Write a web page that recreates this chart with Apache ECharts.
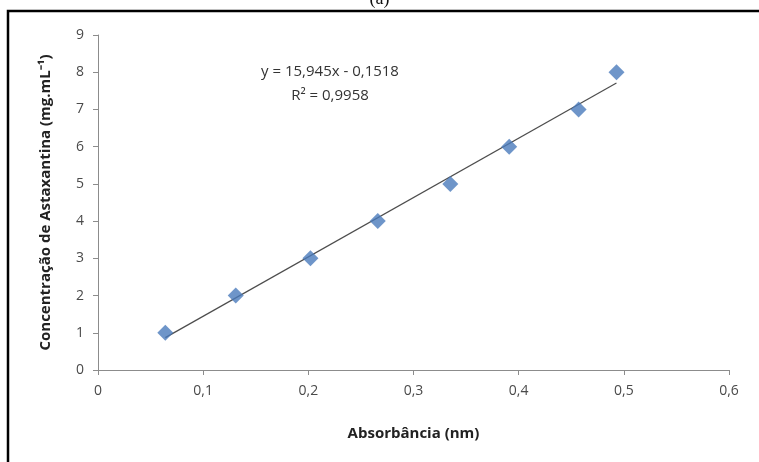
<!DOCTYPE html>
<html>
<head>
<meta charset="utf-8">
<script src="https://cdn.jsdelivr.net/npm/echarts@6/dist/echarts.min.js"></script>
<style>
  html, body { margin: 0; padding: 0; background: #fff; }
  #chart { width: 759px; height: 462px; }
</style>
</head>
<body>
<div id="chart"></div>
<script>
// absorbância (nm) x concentração (mg.mL-1)
const absorbancia = [0.064, 0.131, 0.202, 0.266, 0.335, 0.391, 0.457, 0.493];
const concentracao = [1, 2, 3, 4, 5, 6, 7, 8];
// linha de tendência, pontos extremos
const tendenciaX = [0.064, 0.493];
const tendenciaY = [0.87, 7.71];
const eqTexto = ['y = 15,945x - 0,1518', 'R² = 0,9958'];

const fonte = '"Open Sans", sans-serif';
const chart = echarts.init(document.getElementById('chart'));

chart.setOption({
  backgroundColor: '#fff',
  animation: false,
  textStyle: { fontFamily: fonte },
  grid: { left: 98, right: 30, top: 35, bottom: 92 },
  graphic: [
    {
      type: 'rect',
      shape: { x: 8, y: 11, width: 800, height: 500 },
      style: { fill: 'none', stroke: '#000', lineWidth: 2.5 }
    },
    {
      type: 'text', left: 'center', top: -10,
      style: { text: '(a)', font: '18px "Liberation Serif", serif', fill: '#111' }
    },
    {
      type: 'text', x: 330, y: 72,
      style: { text: eqTexto[0], font: '15px ' + fonte, fill: '#333', align: 'center', verticalAlign: 'middle' }
    },
    {
      type: 'text', x: 330, y: 96,
      style: { text: eqTexto[1], font: '15px ' + fonte, fill: '#333', align: 'center', verticalAlign: 'middle' }
    }
  ],
  xAxis: {
    type: 'value',
    min: 0, max: 0.6, interval: 0.1,
    name: 'Absorbância (nm)',
    nameLocation: 'middle',
    nameGap: 56,
    nameTextStyle: { fontSize: 15, fontWeight: 'bold', color: '#222', fontFamily: fonte },
    axisLine: { show: true, lineStyle: { color: '#8c8c8c', width: 1 } },
    axisTick: { show: true, length: 5, lineStyle: { color: '#8c8c8c' } },
    splitLine: { show: false },
    axisLabel: {
      fontSize: 14, color: '#4a4a4a', margin: 14,
      formatter: v => String(Math.round(v * 10) / 10).replace('.', ',')
    }
  },
  yAxis: {
    type: 'value',
    min: 0, max: 9, interval: 1,
    name: 'Concentração de Astaxantina (mg.mL⁻¹)',
    nameLocation: 'middle',
    nameGap: 45,
    nameTextStyle: { fontSize: 15, fontWeight: 'bold', color: '#222', fontFamily: fonte },
    axisLine: { show: true, lineStyle: { color: '#8c8c8c', width: 1 } },
    axisTick: { show: true, length: 5, lineStyle: { color: '#8c8c8c' } },
    splitLine: { show: false },
    axisLabel: { fontSize: 14, color: '#4a4a4a', margin: 14 }
  },
  series: [
    {
      type: 'line',
      data: tendenciaX.map((x, i) => [x, tendenciaY[i]]),
      showSymbol: false,
      lineStyle: { color: '#4d4d4d', width: 1.2 },
      z: 2
    },
    {
      type: 'scatter',
      data: absorbancia.map((x, i) => [x, concentracao[i]]),
      symbol: 'diamond',
      symbolSize: 16,
      itemStyle: { color: '#4a7bbb' },
      z: 3
    }
  ]
});
</script>
</body>
</html>
